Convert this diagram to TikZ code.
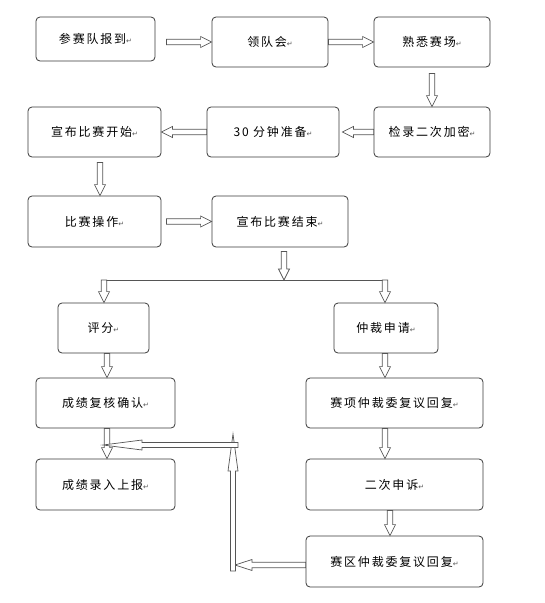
\documentclass[tikz,border=0pt]{standalone}
\usepackage{fontspec}
\usepackage{xcolor}
\usetikzlibrary{calc}
\newfontfamily\cjk[LetterSpace=15]{Noto Sans CJK SC}
\newfontfamily\symf{DejaVu Sans}
\definecolor{boxgray}{HTML}{3A3A3A}
\definecolor{arrowgray}{HTML}{555555}
\newcommand{\retmark}{{\symf\fontsize{7}{7}\selectfont\textcolor{arrowgray}{↵}}}

\tikzset{
  head len/.code={\def\arrowhl{#1}},
  head wid/.code={\def\arrowhw{#1}},
  shaft wid/.code={\def\arrowsw{#1}},
  box/.style={draw=boxgray, fill=white, rounded corners=4pt, line width=0.8pt,
    inner sep=0pt, font=\cjk\fontsize{12}{14}\selectfont},
  blk/.style={draw=arrowgray, fill=white, line width=0.7pt,
    head len=11pt, head wid=5.5pt, shaft wid=2.7pt,
    to path={
      let \p1=(\tikztostart), \p2=(\tikztotarget),
          \p3=($(\p2)!\arrowhl!(\p1)$) in
      ($(\p1)!\arrowsw!90:(\p2)$) -- ($(\p3)!\arrowsw!90:(\p2)$)
      -- ($(\p3)!\arrowhw!90:(\p2)$) -- (\p2)
      -- ($(\p3)!\arrowhw!-90:(\p2)$) -- ($(\p3)!\arrowsw!-90:(\p2)$)
      -- ($(\p1)!\arrowsw!-90:(\p2)$) -- cycle}}
}

\begin{document}
\begin{tikzpicture}[x=1pt, y=-1pt]
  \useasboundingbox (0,0) rectangle (545,603);

  % Etapes
  \node[box, minimum width=119pt, minimum height=44pt] (b1) at (95.5,39) {参赛队报到\retmark};
  \node[box, minimum width=116pt, minimum height=50pt] (b2) at (270,42) {领队会\retmark};
  \node[box, minimum width=116pt, minimum height=50pt] (b3) at (432,42) {熟悉赛场\retmark};
  \node[box, minimum width=116pt, minimum height=50pt] (b4) at (432,132) {检录二次加密\retmark};
  \node[box, minimum width=132pt, minimum height=50pt] (b5) at (273,132) {30 分钟准备\retmark};
  \node[box, minimum width=133pt, minimum height=50pt] (b6) at (94.5,132) {宣布比赛开始\retmark};
  \node[box, minimum width=133pt, minimum height=51pt] (b7) at (94.5,221.5) {比赛操作\retmark};
  \node[box, minimum width=136pt, minimum height=51pt] (b8) at (280,221.5) {宣布比赛结束\retmark};
  \node[box, minimum width=91pt, minimum height=50pt] (b9) at (103.5,328) {评分\retmark};
  \node[box, minimum width=104pt, minimum height=50pt] (b10) at (386,328) {仲裁申请\retmark};
  \node[box, minimum width=139pt, minimum height=50pt] (b11) at (105.5,403) {成绩复核确认\retmark};
  \node[box, minimum width=177pt, minimum height=50pt] (b12) at (394.5,403) {赛项仲裁委复议回复\retmark};
  \node[box, minimum width=139pt, minimum height=51pt] (b13) at (105.5,484.5) {成绩录入上报\retmark};
  \node[box, minimum width=177pt, minimum height=51pt] (b14) at (394.5,484.5) {二次申诉\retmark};
  \node[box, minimum width=177pt, minimum height=51pt] (b15) at (394.5,561.5) {赛区仲裁委复议回复\retmark};

  % Reperes
  \coordinate (c67) at (100,0);
  \coordinate (cL) at (107,0);
  \coordinate (cR) at (385,0);
  \coordinate (cR2) at (390,0);
  \coordinate (sp) at (284,280);
  \coordinate (spL) at (104,280);
  \coordinate (spR) at (385,280);
  \coordinate (t45) at ($(b5.east)+(3,0)$);
  \coordinate (fb0) at (235,565);
  \coordinate (fb1) at (233,571);
  \coordinate (fb2) at (233,434);
  \coordinate (fb3) at (238,445);
  \coordinate (fb4) at (103,445);

  % Fleches
  \draw[blk] ($(b1.east |- b2.west)+(11,0)$) to (b2.west);
  \draw[blk] (b2.east) to (b3.west);
  \draw[blk] ($(b3.south)+(0,6)$) to (b4.north);
  \draw[blk] (b4.west) to (t45);
  \draw[blk] (b5.west) to (b6.east);
  \draw[blk] ($(c67 |- b6.south)+(0,5)$) to (c67 |- b7.north);
  \draw[blk] ($(b7.east)+(5,0)$) to (b8.west);
  \draw[blk] ($(sp |- b8.south)+(0,4)$) to (sp);
  \draw[arrowgray, line width=0.7pt] (spL) -- (spR);
  \draw[blk] (spL) to (spL |- b9.north);
  \draw[blk] (spR) to (spR |- b10.north);
  \draw[blk] (cL |- b9.south) to (cL |- b11.north);
  \draw[blk] (cL |- b11.south) to (cL |- b13.north);
  \draw[blk] (cR |- b10.south) to (cR |- b12.north);
  \draw[blk] (cR |- b12.south) to (cR |- b14.north);
  \draw[blk] (cR2 |- b14.south) to (cR2 |- b15.north);

  % Retour
  \draw[blk, head len=17pt] (b15.west |- fb0) to (fb0);
  \draw[blk, head len=37pt, head wid=5pt, shaft wid=2.5pt] (fb1) to (fb2);
  \draw[blk, head len=39pt, head wid=5pt, shaft wid=2.5pt] (fb3) to (fb4);
\end{tikzpicture}
\end{document}
